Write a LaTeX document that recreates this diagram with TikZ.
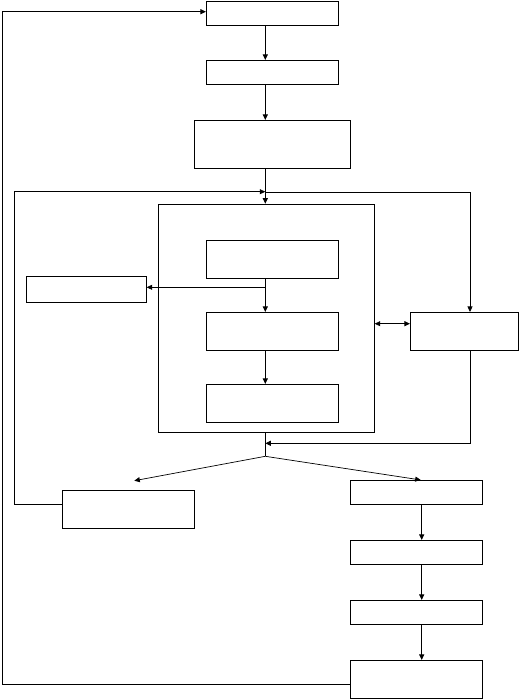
\documentclass[tikz,border=0pt]{standalone}
\usetikzlibrary{arrows.meta}
\begin{document}
\begin{tikzpicture}[x=1pt,y=-1pt,
  box/.style={draw,line width=0.7pt,rectangle,inner sep=0pt,minimum width=#1},
  box/.default=132pt,
  ln/.style={line width=0.7pt},
  arr/.style={ln,-{Triangle[length=5.5pt,width=5pt]}},
  darr/.style={ln,{Triangle[length=5.5pt,width=5pt]}-{Triangle[length=5.5pt,width=5pt]}}]
\useasboundingbox (0,0) rectangle (519,699);
% boxes
\node[box,minimum height=24pt] (b1) at (272.3,13.3) {};
\node[box,minimum height=24pt] (b2) at (272.3,72.3) {};
\node[box=156pt,minimum height=48pt] (b3) at (272.3,144.3) {};
\node[box=216.3pt,minimum height=228.3pt] (cont) at (266.2,318.2) {};
\node[box,minimum height=38pt] (i1) at (272.2,259.3) {};
\node[box=120pt,minimum height=26pt] (lb) at (86.3,289.3) {};
\node[box,minimum height=38pt] (i2) at (272.2,331.3) {};
\node[box,minimum height=38pt] (i3) at (272.2,403.3) {};
\node[box=108pt,minimum height=38pt] (rb) at (464.3,331.3) {};
\node[box,minimum height=38pt] (bl) at (128.3,509.3) {};
\node[box,minimum height=24pt] (r1) at (416.3,492.3) {};
\node[box,minimum height=24pt] (r2) at (416.3,552.3) {};
\node[box,minimum height=24pt] (r3) at (416.3,612.3) {};
\node[box,minimum height=38pt] (r4) at (416.3,679.3) {};
% helper coordinates
\coordinate (cx) at (265.3,0);
\coordinate (rx) at (421.7,0);
\coordinate (ex) at (470,0);
\coordinate (jb) at (265.3,456.3);
\coordinate (jl) at (134.3,480.7);
\coordinate (ol1) at (2.3,684.3);
\coordinate (ol2) at (2.3,11.7);
\coordinate (il1) at (14.3,504.3);
\coordinate (il2) at (14.3,191.7);
\coordinate (tr) at (470,192.3);
\coordinate (br) at (470,443.3);
% main column
\draw[arr] (b1.south -| cx) -- (b2.north -| cx);
\draw[arr] (b2.south -| cx) -- (b3.north -| cx);
\draw[arr] (b3.south -| cx) -- (cont.north -| cx);
\draw[arr] (i1.south -| cx) -- (i2.north -| cx);
\draw[arr] (i2.south -| cx) -- (i3.north -| cx);
\draw[arr] (cx |- 0,287.3) -- (lb.east |- 0,287.3);
% right side
\draw[arr] (cx |- tr) -- (tr) -- (rb.north -| ex);
\draw[darr] (cont.east |- 0,323.7) -- (rb.west |- 0,323.7);
\draw[arr] (rb.south -| ex) -- (br) -- (cx |- br);
% branch
\draw[ln] (cont.south -| cx) -- (jb);
\draw[arr] (jb) -- (jl);
\draw[arr] (jb) -- (r1.north -| 420.7,0);
% right column
\draw[arr] (r1.south -| rx) -- (r2.north -| rx);
\draw[arr] (r2.south -| rx) -- (r3.north -| rx);
\draw[arr] (r3.south -| rx) -- (r4.north -| rx);
% loops
\draw[arr] (bl.west |- il1) -- (il1) -- (il2) -- (cx |- il2);
\draw[arr] (r4.west |- ol1) -- (ol1) -- (ol2) -- (b1.west |- ol2);
\end{tikzpicture}
\end{document}
